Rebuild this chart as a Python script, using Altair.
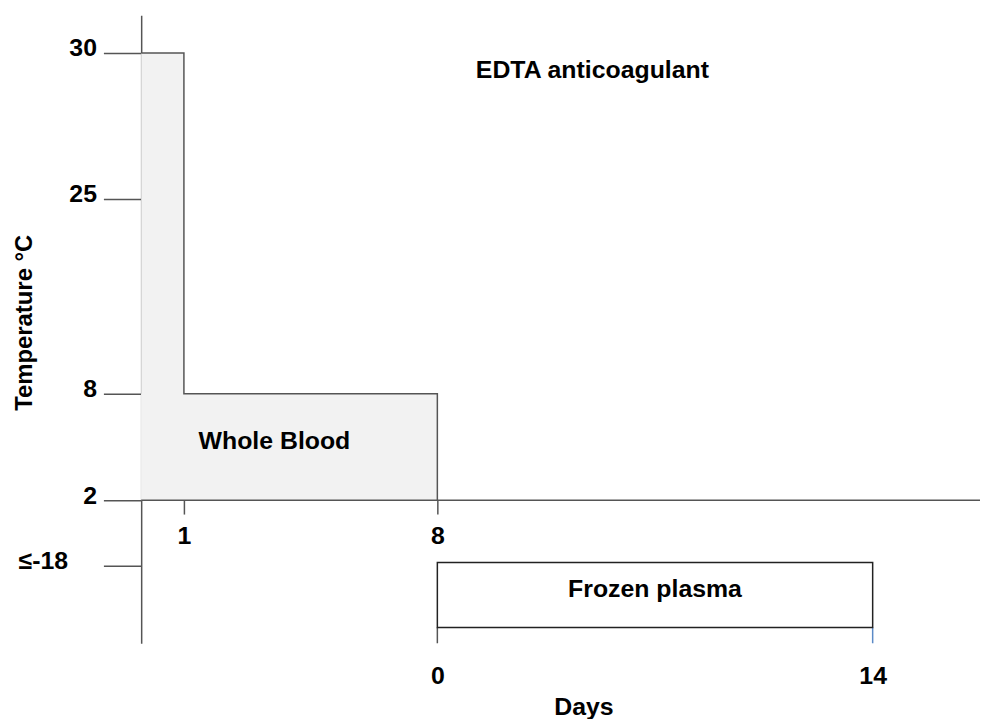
import altair as alt
import pandas as pd

# ---- data ----
# Temperature axis ticks (°C)
temp_ticks = [30, 25, 8, 2, -18]
# Whole blood storage windows (days from collection, °C)
wb_day_start = [0, 0]
wb_day_end = [1, 8]
wb_temp_low = [2, 2]
wb_temp_high = [30, 8]
wb_day_ticks = [1, 8]

# Frozen plasma (days after separation; starts where whole blood ends)
plasma_start = 8
plasma_days = [0, 14]
plasma_temp_top = -17
plasma_temp_bottom = -35.5

# annotations
annot_text = ["Whole Blood", "Frozen plasma"]
annot_day = [3.5, plasma_start + 7.0]
annot_temp = [4.9, -27]

FONT = "Liberation Sans"
LINE = "#555555"

# ---- schematic (piecewise) scales ----
x_scale = alt.Scale(domain=[0, 1, 8, 22, 25.45], range=[0, 43, 298, 736, 844],
                    zero=False, nice=False)
y_scale = alt.Scale(domain=[-40, -18, 2, 8, 25, 30, 31.3],
                    range=[632, 554, 488, 381, 185, 38, 0], zero=False, nice=False)
y_bottom = -40
x_end = 25.45

label_style = dict(labelFont=FONT, labelFontSize=25, labelFontWeight="bold",
                   labelColor="black", labelOverlap=False, labelFlush=False)

y_axis = alt.Axis(values=temp_ticks, grid=False,
                  labelExpr="datum.value == -18 ? '≤-18' : datum.label",
                  tickSize=38, tickColor=LINE, tickWidth=1.5,
                  domainColor=LINE, domainWidth=1.5,
                  labelPadding={"condition": {"test": "datum.value == -18", "value": 36}, "value": 7},
                  labelOffset=-5, labelBaseline="middle",
                  title="Temperature °C", titleFont=FONT, titleFontSize=24,
                  titleFontWeight="bold", titleColor="black", titleAngle=270,
                  titleX=-110, titleY=309, titleAlign="center", titleBaseline="alphabetic",
                  **label_style)

x_axis_wb = alt.Axis(values=wb_day_ticks, orient="bottom", offset=-144, grid=False,
                     domain=False, tickSize=14, tickColor=LINE, tickWidth=1.5,
                     labelPadding=10, title=None, **label_style)

x_axis_plasma = alt.Axis(values=[plasma_start + d for d in plasma_days], orient="bottom",
                         grid=False, domain=False, ticks=False, tickSize=0,
                         labelExpr=f"'' + (datum.value - {plasma_start})",
                         labelPadding=20, title="Days", titleFont=FONT, titleFontSize=25,
                         titleFontWeight="bold", titleColor="black", titleX=445, titleY=72,
                         titleAlign="center", titleBaseline="alphabetic", **label_style)

# ---- tables ----
wb_df = pd.DataFrame({"d0": wb_day_start, "d1": wb_day_end,
                      "lo": wb_temp_low, "hi": wb_temp_high})
outline_df = pd.DataFrame({
    "t": [wb_day_start[0], wb_day_end[0], wb_day_end[0], wb_day_end[1], wb_day_end[1]],
    "temp": [wb_temp_high[0], wb_temp_high[0], wb_temp_high[1], wb_temp_high[1], wb_temp_low[1]],
    "i": list(range(5)),
})
baseline_df = pd.DataFrame({"t0": [0], "t1": [x_end], "temp": [wb_temp_low[0]]})
plasma_df = pd.DataFrame({"t0": [plasma_start + plasma_days[0]],
                          "t1": [plasma_start + plasma_days[1]],
                          "top": [plasma_temp_top], "bot": [plasma_temp_bottom]})
legs_df = pd.DataFrame({"t": [plasma_start + d for d in plasma_days],
                        "top": [plasma_temp_bottom] * 2, "bot": [y_bottom] * 2,
                        "c": [LINE, "#5b8ac6"]})
annot_df = pd.DataFrame({"label": annot_text, "t": annot_day, "temp": annot_temp})

# ---- layers ----
fill = alt.Chart(wb_df).mark_rect(color="#f2f2f2").encode(
    x=alt.X("d0:Q", scale=x_scale, axis=None), x2="d1:Q",
    y=alt.Y("lo:Q", scale=y_scale, axis=y_axis), y2="hi:Q")

outline = alt.Chart(outline_df).mark_line(color=LINE, strokeWidth=1.5).encode(
    x=alt.X("t:Q", scale=x_scale, axis=None),
    y=alt.Y("temp:Q", scale=y_scale, axis=None), order="i:Q")

base_line = alt.Chart(baseline_df).mark_rule(color=LINE, strokeWidth=1.5).encode(
    x=alt.X("t0:Q", scale=x_scale, axis=x_axis_wb), x2="t1:Q",
    y=alt.Y("temp:Q", scale=y_scale, axis=None))

plasma = alt.Chart(plasma_df).mark_rect(fill="white", stroke="#222222", strokeWidth=1.5).encode(
    x=alt.X("t0:Q", scale=x_scale, axis=x_axis_plasma), x2="t1:Q",
    y=alt.Y("top:Q", scale=y_scale, axis=None), y2="bot:Q")

legs = alt.Chart(legs_df).mark_rule(strokeWidth=1.5).encode(
    x=alt.X("t:Q", scale=x_scale, axis=None),
    y=alt.Y("top:Q", scale=y_scale, axis=None), y2="bot:Q",
    color=alt.Color("c:N", scale=None))

texts = alt.Chart(annot_df).mark_text(font=FONT, fontSize=25, fontWeight="bold",
                                      color="black", baseline="alphabetic", align="center").encode(
    x=alt.X("t:Q", scale=x_scale, axis=None),
    y=alt.Y("temp:Q", scale=y_scale, axis=None), text="label:N")

chart = alt.layer(fill, outline, base_line, legs, plasma, texts).resolve_axis(
    x="independent", y="independent"
).properties(
    width=844, height=632,
    autosize=alt.AutoSizeParams(type="none"),
    padding={"left": 134, "top": 5, "right": 0, "bottom": 74},
    title=alt.TitleParams("EDTA anticoagulant", font=FONT, fontSize=25, fontWeight="bold",
                          color="black", anchor="middle", offset=0, dx=32, dy=88,
                          baseline="alphabetic"),
).configure_view(stroke=None)

chart.save("out.html", embed_options={"renderer": "svg", "actions": False})
